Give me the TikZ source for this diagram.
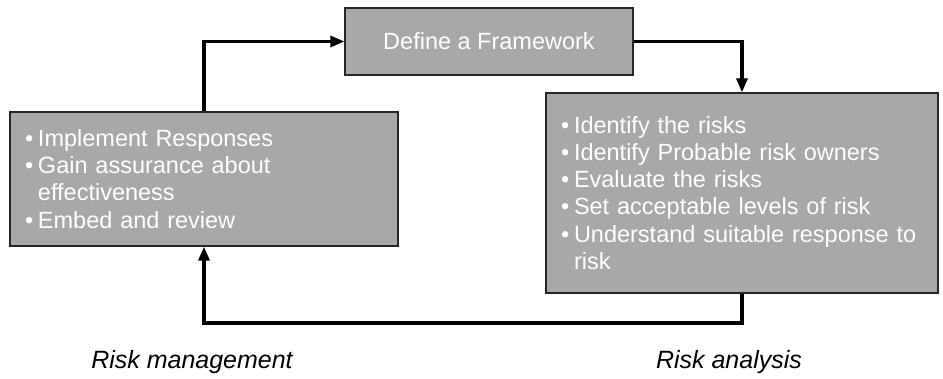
\documentclass[tikz,border=0pt]{standalone}
\usepackage{fontspec}
\setmainfont{Liberation Sans}
\usetikzlibrary{arrows.meta}

% bullet line and hanging continuation line
\newcommand{\bul}[1]{\makebox[13pt][l]{\textbullet}#1}
\newcommand{\cont}[1]{\hspace*{13pt}#1}

\begin{document}
\begin{tikzpicture}[x=1pt,y=-1pt,
  panel/.style={draw=black!85,line width=1.3pt,fill=black!34,text=white,
    font=\fontsize{23.5}{27.2}\selectfont,inner sep=0pt},
  listpanel/.style={panel,align=left,inner xsep=15pt},
  flow/.style={line width=3.2pt,draw=black,
    -{Triangle[length=14pt,width=11pt]}},
  caption/.style={font=\fontsize{25}{30}\selectfont\itshape,text=black}]

\useasboundingbox (0,0) rectangle (943,379);

% framework box at the top
\node[panel,minimum width=288pt,minimum height=67pt] (define) at (489,41.5)
  {Define a Framework};

% management box on the left
\node[listpanel,minimum height=134pt,text width=358pt] (left) at (204,179)
  {\bul{Implement Responses}\\
   \bul{Gain assurance about}\\
   \cont{effectiveness}\\
   \bul{Embed and review}};

% analysis box on the right
\node[listpanel,minimum height=200pt,text width=362pt] (right) at (742,193)
  {\bul{Identify the risks}\\
   \bul{Identify Probable risk owners}\\
   \bul{Evaluate the risks}\\
   \bul{Set acceptable levels of risk}\\
   \bul{Understand suitable response to}\\
   \cont{risk}};

% cycle connectors
\coordinate (loop) at (left.south |- 0,323);
\draw[flow] (left.north) |- (define.west);
\draw[flow] (define.east) -| (right.north);
\draw[flow] (right.south) |- (loop) -- (left.south);

% captions under the boxes
\node[caption] (mgmt) at (192,362) {Risk management};
\node[caption] (anal) at (729,362) {Risk analysis};
\end{tikzpicture}
\end{document}
